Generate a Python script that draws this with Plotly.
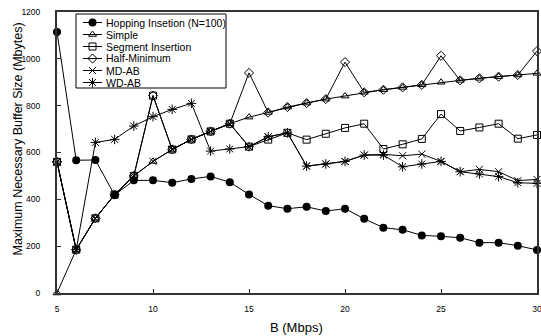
import plotly.graph_objects as go

B = list(range(5, 31))

hopping = [1115, 567, 568, 418, 481, 481, 471, 487, 498, 473, 421, 373, 360, 368, 350, 360,
           317, 279, 270, 246, 242, 236, 215, 215, 202, 184]
simple = [0, 185, 319, 420, 500, 562, 613, 656, 690, 723, 751, 771, 794, 811, 828, 841,
          857, 868, 878, 889, 900, 908, 917, 924, 931, 938]
segment = [560, 185, 319, 420, 500, 843, 613, 656, 690, 723, 625, 655, 684, 655, 680, 705,
           723, 615, 635, 658, 764, 692, 707, 723, 659, 675]
half_min = [560, 185, 319, 420, 500, 843, 613, 656, 690, 723, 940, 771, 794, 811, 828, 986,
            857, 868, 878, 889, 1013, 908, 917, 924, 931, 1033]
md_ab = [560, 185, 319, 420, 500, 562, 613, 656, 690, 723, 625, 667, 684, 542, 551, 562,
         589, 592, 586, 593, 562, 518, 528, 518, 480, 485]
wd_ab = [560, 185, 643, 656, 713, 753, 784, 810, 606, 615, 625, 667, 684, 542, 551, 562,
         589, 589, 539, 551, 562, 518, 508, 497, 471, 468]

x_title = "B (Mbps)"
y_title = "Maximum Necessary Buffer Size (Mbytes)"

series = [
    ("Hopping Insetion (N=100)", hopping, dict(symbol="circle", size=8, color="black")),
    ("Simple", simple, dict(symbol="triangle-up-open", size=7, color="black", line=dict(width=1))),
    ("Segment Insertion", segment, dict(symbol="square-open", size=7, color="black", line=dict(width=1))),
    ("Half-Minimum", half_min, dict(symbol="diamond-open", size=7, color="black", line=dict(width=1))),
    ("MD-AB", md_ab, dict(symbol="x-thin-open", size=7, color="black", line=dict(width=1, color="black"))),
    ("WD-AB", wd_ab, dict(symbol="asterisk-open", size=8, color="black", line=dict(width=1, color="black"))),
]

W, H = 541, 336
# plot area in pixels
L, R, T, Bm = 57, 537, 12, 293


def fx(px):
    return (px - L) / (R - L)


def fy(py):
    return (Bm - py) / (Bm - T)


fig = go.Figure()
for name, vals, mk in series:
    fig.add_trace(go.Scatter(
        x=B, y=vals, name=name, mode="lines+markers",
        line=dict(color="black", width=1), marker=mk, cliponaxis=False, showlegend=False,
    ))

# hand-drawn legend on an overlay axis in plot-fraction coordinates
bx0, bx1, by0, by1 = fx(76), fx(226), fy(88), fy(14)
fig.add_trace(go.Scatter(
    x=[bx0, bx1, bx1, bx0, bx0], y=[by0, by0, by1, by1, by0], mode="lines",
    fill="toself", fillcolor="white", line=dict(color="black", width=1),
    xaxis="x2", yaxis="y2", showlegend=False, hoverinfo="skip",
))
for i, (name, vals, mk) in enumerate(series):
    py = 22.5 + 12 * i
    fig.add_trace(go.Scatter(
        x=[fx(83), fx(102)], y=[fy(py)] * 2, mode="lines",
        line=dict(color="black", width=1),
        xaxis="x2", yaxis="y2", showlegend=False, hoverinfo="skip",
    ))
    fig.add_trace(go.Scatter(
        x=[fx(92.5)], y=[fy(py)], mode="markers", marker=mk,
        xaxis="x2", yaxis="y2", showlegend=False, hoverinfo="skip",
    ))
    fig.add_annotation(
        x=fx(104), y=fy(py), xref="paper", yref="paper", text=name, showarrow=False,
        xanchor="left", yanchor="middle", font=dict(size=10.5, color="black"),
    )

# axis titles
fig.add_annotation(
    x=fx(17.5), y=fy(139), xref="paper", yref="paper", text=y_title, showarrow=False,
    textangle=-90, xanchor="center", yanchor="middle", font=dict(size=12.5, color="black"),
)
fig.add_annotation(
    x=fx(296), y=fy(327), xref="paper", yref="paper", text=x_title, showarrow=False,
    xanchor="center", yanchor="middle", font=dict(size=13, color="black"),
)

tickfont = dict(family="Liberation Sans Narrow, Arial Narrow, Liberation Sans, Arial", size=8.5, color="black")
axis_common = dict(
    showline=True, linecolor="#333", linewidth=2, mirror=True, automargin=False,
    ticks="inside", ticklen=4, tickcolor="#333", showgrid=False, zeroline=False,
    ticklabeloverflow="allow", tickfont=tickfont,
)

fig.update_layout(
    width=W, height=H,
    margin=dict(l=L, r=W - R, t=T, b=H - Bm),
    paper_bgcolor="white", plot_bgcolor="white",
    font=dict(family="Liberation Sans, Arial", color="black"),
    xaxis=dict(range=[5, 30], dtick=5, tick0=5, ticklabelstandoff=7, **axis_common),
    yaxis=dict(range=[0, 1200], dtick=200, ticklabelstandoff=13, **axis_common),
    xaxis2=dict(overlaying="x", range=[0, 1], visible=False, fixedrange=True),
    yaxis2=dict(overlaying="y", range=[0, 1], visible=False, fixedrange=True),
    showlegend=False,
)

fig.write_html(
    "out.html",
    config={"displayModeBar": False},
    post_script="document.body.style.margin='0';document.body.style.overflow='hidden';",
)
